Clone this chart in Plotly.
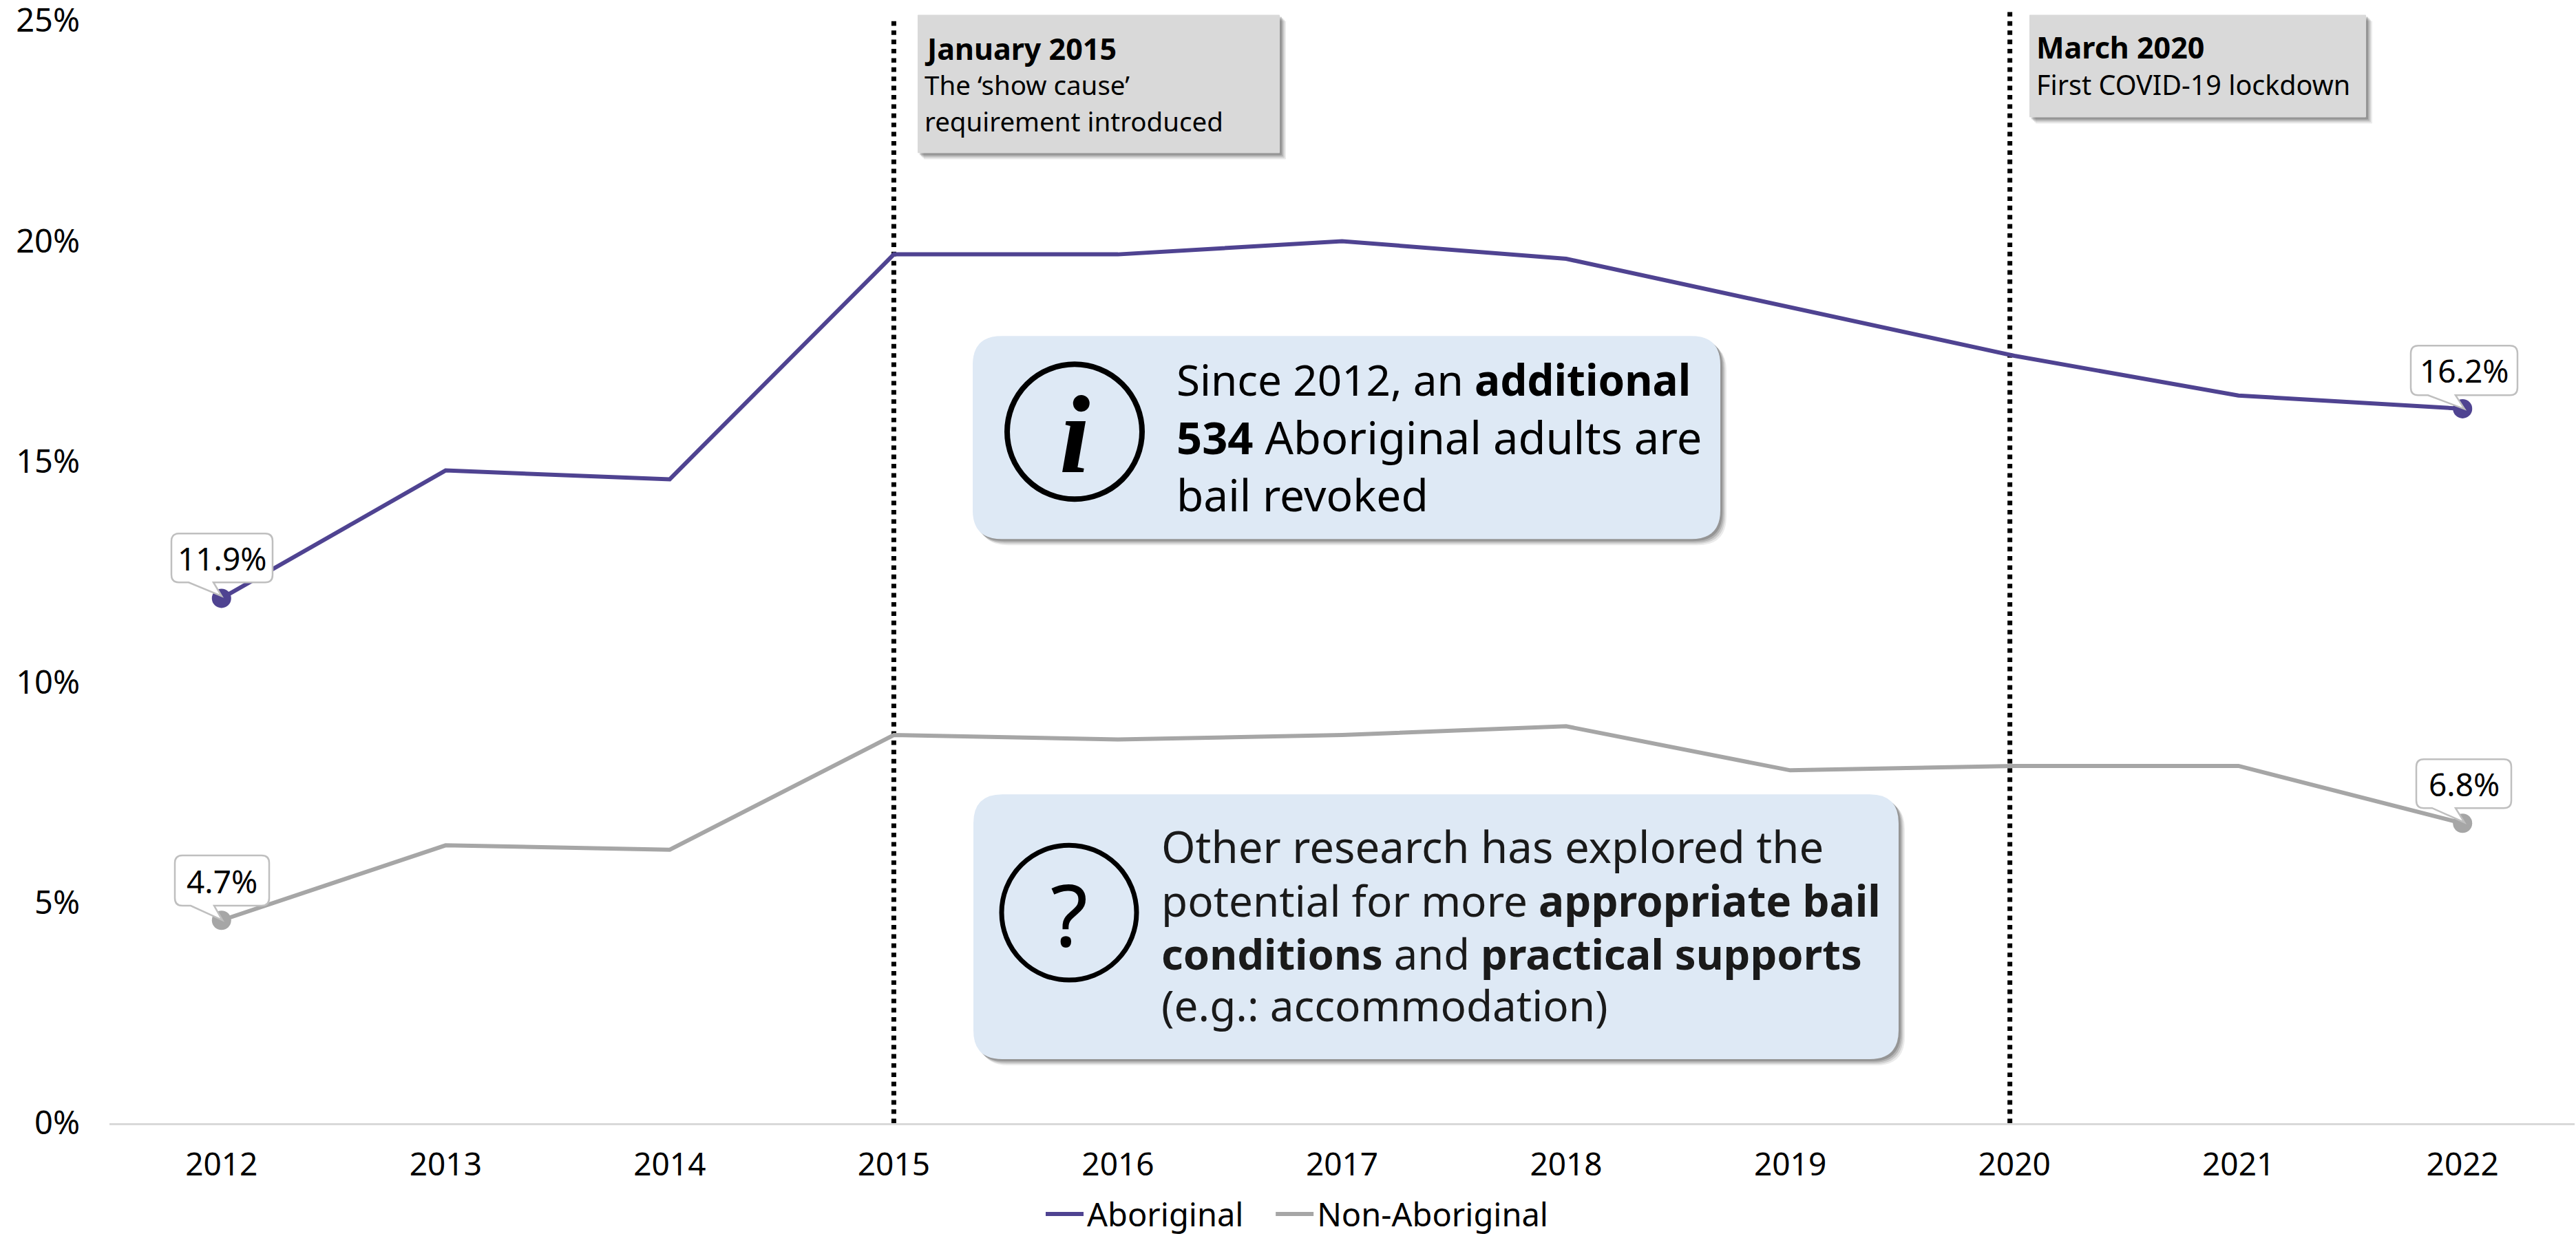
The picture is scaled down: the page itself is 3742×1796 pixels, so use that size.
import plotly.graph_objects as go

years = [2012, 2013, 2014, 2015, 2016, 2017, 2018, 2019, 2020, 2021, 2022]
aboriginal = [11.9, 14.8, 14.6, 19.7, 19.7, 20.0, 19.6, 18.5, 17.4, 16.5, 16.2]
non_aboriginal = [4.6, 6.3, 6.2, 8.8, 8.7, 8.8, 9.0, 8.0, 8.1, 8.1, 6.8]
y_ticks = [0, 5, 10, 15, 20, 25]
y_tick_labels = ["0%", "5%", "10%", "15%", "20%", "25%"]
event_positions = [2015, 2019.98]

W, H = 3742, 1796
L, R, T, B = 159, 2, 29.5, 164
PURPLE, GREY = "#4F4391", "#A6A6A6"
FONT = "Noto Sans"
px = lambda x: (x - L) / (W - L - R)
py = lambda y: 1 - (y - T) / (H - T - B)
P = lambda x, y: f"{px(x):.5f},{py(y):.5f}"


def round_rect(x0, y0, x1, y1, r):
    return (f"M {P(x0+r,y0)} L {P(x1-r,y0)} Q {P(x1,y0)} {P(x1,y0+r)} "
            f"L {P(x1,y1-r)} Q {P(x1,y1)} {P(x1-r,y1)} "
            f"L {P(x0+r,y1)} Q {P(x0,y1)} {P(x0,y1-r)} "
            f"L {P(x0,y0+r)} Q {P(x0,y0)} {P(x0+r,y0)} Z")


def callout(x0, y0, x1, y1, bx0, bx1, tx, ty, r=11):
    return (f"M {P(x0+r,y0)} L {P(x1-r,y0)} Q {P(x1,y0)} {P(x1,y0+r)} "
            f"L {P(x1,y1-r)} Q {P(x1,y1)} {P(x1-r,y1)} "
            f"L {P(bx1,y1)} L {P(tx,ty)} L {P(bx0,y1)} "
            f"L {P(x0+r,y1)} Q {P(x0,y1)} {P(x0,y1-r)} "
            f"L {P(x0,y0+r)} Q {P(x0,y0)} {P(x0+r,y0)} Z")


shapes, anns = [], []


def path(d, fill="rgba(0,0,0,0)", line=None, lw=0):
    shapes.append(dict(type="path", path=d, xref="paper", yref="paper", layer="above",
                       fillcolor=fill, line=dict(color=line or "rgba(0,0,0,0)", width=lw)))


def box(x0, y0, x1, y1, r, fill):
    for off, a in ((9, .10), (7, .14), (5, .20), (3, .25)):
        path(round_rect(x0 + off, y0 + off, x1 + off, y1 + off, max(r, 1)), fill=f"rgba(60,60,60,{a})")
    path(round_rect(x0, y0, x1, y1, max(r, 1)), fill=fill)


def text(x, y, s, size, color="#000000", anchor="left", family=FONT):
    anns.append(dict(xref="paper", yref="paper", x=px(x), y=py(y), text=s, showarrow=False, xanchor=anchor,
                     yanchor="middle", font=dict(family=family, size=size, color=color),
                     borderpad=0, borderwidth=0))


def circle(cx, cy, r, lw):
    shapes.append(dict(type="circle", xref="paper", yref="paper", layer="above",
                       x0=px(cx - r), x1=px(cx + r), y0=py(cy - r), y1=py(cy + r),
                       line=dict(color="#000000", width=lw)))


# grey event notes
box(1333, 21, 1859, 222, 1, "#D9D9D9")
text(1343, 70, "<b>January 2015</b>", 43)
text(1343, 123, "The ‘show cause’", 38.5)
text(1343, 176, "requirement introduced", 38.5)
box(2948, 21, 3437, 170, 1, "#D9D9D9")
text(2958, 68, "<b>March 2020</b>", 43)
text(2958, 123, "First COVID-19 lockdown", 39.5)

# blue notes
box(1413, 488, 2499, 783, 42, "#DEE9F5")
circle(1561, 627, 98, 8)
text(1561, 632, "<b><i>i</i></b>", 160, anchor="center", family="Liberation Serif")
text(1709, 551, "Since 2012, an <b>additional</b>", 62)
text(1709, 635, "<b>534</b> Aboriginal adults are", 65)
text(1709, 718, "bail revoked", 64)

box(1414, 1154, 2758, 1539, 42, "#DEE9F5")
circle(1553, 1326, 98, 7)
text(1553, 1326, "?", 125, anchor="center")
text(1687, 1229, "Other research has explored the", 63.5, color="#1A1A1A")
text(1687, 1308, "potential for more <b>appropriate bail</b>", 62, color="#1A1A1A")
text(1687, 1385, "<b>conditions</b> and <b>practical supports</b>", 61.5, color="#1A1A1A")
text(1687, 1460, "(e.g.: accommodation)", 62, color="#1A1A1A")

# value callouts
for c, s in (
    ((249, 775, 396, 846, 274, 310, 322, 866), "11.9%"),
    ((254, 1243, 391, 1316, 277, 311, 323, 1337), "4.7%"),
    ((3502, 502, 3657, 574, 3527, 3567, 3580, 594), "16.2%"),
    ((3510, 1103, 3648, 1174, 3533, 3567, 3580, 1195), "6.8%"),
):
    path(callout(*c), fill="#FFFFFF", line="#BFBFBF", lw=2.5)
    text((c[0] + c[2]) / 2, (c[1] + c[3]) / 2, s, 46, anchor="center")

# event lines
for yr, top in zip(event_positions, (25, 12)):
    shapes.append(dict(type="line", xref="x", yref="paper", x0=yr, x1=yr, y0=0, y1=py(top), layer="below",
                       line=dict(color="#000000", width=7, dash="6.6px,6.8px")))

fig = go.Figure()
for name, vals, col in (("Aboriginal\u00a0\u00a0\u00a0", aboriginal, PURPLE), ("Non-Aboriginal", non_aboriginal, GREY)):
    fig.add_trace(go.Scatter(x=years, y=vals, name=name, mode="lines", line=dict(color=col, width=6)))
    fig.add_trace(go.Scatter(x=[years[0], years[-1]], y=[vals[0], vals[-1]], mode="markers", showlegend=False,
                             marker=dict(color=col, size=28), hoverinfo="skip"))

fig.update_layout(
    width=W, height=H, autosize=False,
    margin=dict(l=L, r=R, t=T, b=B, pad=0, autoexpand=False),
    paper_bgcolor="white", plot_bgcolor="white",
    font=dict(family=FONT, size=47, color="#000000"),
    shapes=shapes, annotations=anns,
    legend=dict(orientation="h", xref="container", yref="container", x=1514 / W, y=1 - 1727 / H,
                xanchor="left", yanchor="top", itemwidth=55,
                font=dict(family=FONT, size=47), bgcolor="rgba(0,0,0,0)"),
    xaxis=dict(range=[2011.5, 2022.5], tickmode="array", tickvals=years, ticktext=[str(y) for y in years],
               showgrid=False, zeroline=False, showline=True, linecolor="#D9D9D9", linewidth=3,
               ticks="", ticklabelstandoff=18, tickfont=dict(family=FONT, size=46)),
    yaxis=dict(range=[0, 25], tickmode="array", tickvals=y_ticks, ticktext=y_tick_labels,
               showgrid=False, zeroline=False, showline=False, ticks="", ticklabelstandoff=42,
               ticklabeloverflow="allow", tickfont=dict(family=FONT, size=47)),
)
fig.write_html("out.html", config=dict(displayModeBar=False),
               post_script="document.body.style.margin='0';document.body.style.overflow='hidden';")
